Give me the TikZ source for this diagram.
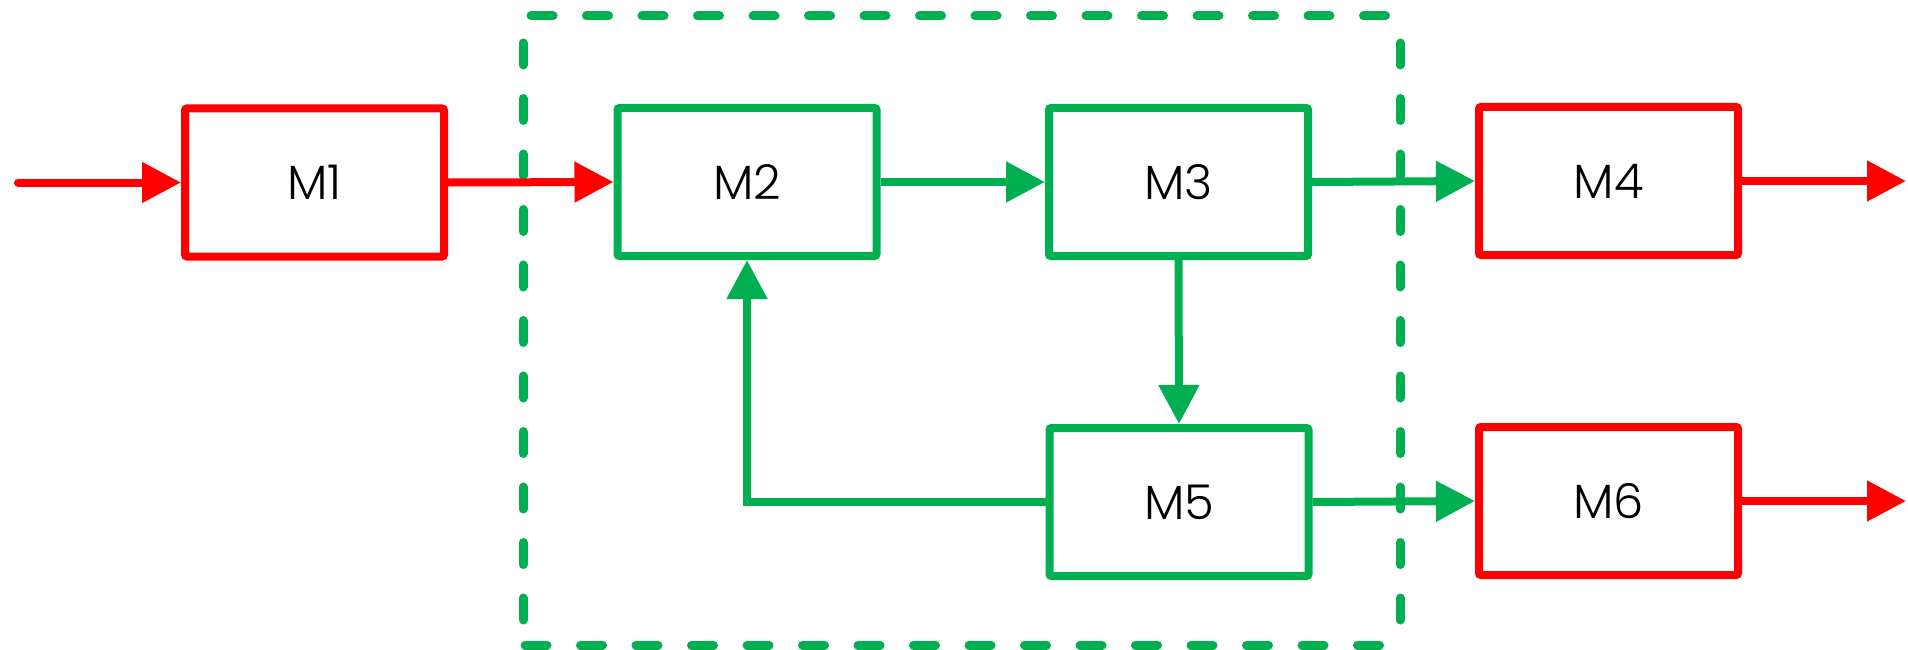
\documentclass[tikz,border=0pt]{standalone}
\usepackage{fontspec}
\setmainfont{Poppins}[UprightFont={* Light}]
\definecolor{BlockRed}{RGB}{255,0,0}
\definecolor{BlockGreen}{RGB}{0,176,80}
\usepackage{tikz}
\usetikzlibrary{arrows.meta}
\usetikzlibrary{positioning}
\tikzstyle{block} = [draw, line width=8pt, rounded corners=2pt, fill=white, minimum width=259pt, minimum height=148pt, inner sep=0pt, font=\fontsize{48}{58}\selectfont]
\tikzstyle{redbox} = [block, draw=BlockRed]
\tikzstyle{greenbox} = [block, draw=BlockGreen]
\tikzstyle{redarrow} = [line width=8pt, BlockRed, line cap=round, -{Triangle[length=39pt, width=39pt]}]
\tikzstyle{greenarrow} = [line width=8pt, BlockGreen, -{Triangle[length=39pt, width=39pt]}]
\tikzstyle{dashline} = [line width=9pt, BlockGreen, line cap=round, dash pattern=on 22pt off 33.5pt]

\begin{document}
\begin{tikzpicture}[x=1pt, y=-1pt]
                \useasboundingbox (0,0) rectangle (1908,650);

                
                \draw[dashline] (531,16) -- (1400,16);
                \draw[dashline] (523,43) -- (523,632);
                \draw[dashline] (1400,43) -- (1400,632);
                \draw[dashline] (525,645) -- (1400,645);

                
                \node[redbox] (M1) at (314.5,182.5) {M1};
                \node[greenbox] (M2) at (747,182) {M2};
                \node[greenbox] (M3) at (1178.5,182) {M3};
                \node[redbox] (M4) at (1608.5,181) {M4};
                \node[greenbox] (M5) at (1179,502) {M5};
                \node[redbox] (M6) at (1608.5,501) {M6};
                \coordinate (in) at (18,182.5);
                \coordinate (out4) at (1906,181);
                \coordinate (out6) at (1906,501);

                
                \draw[redarrow] (in) -- (M1.west);
                \draw[redarrow] (M1.east) -- (M2.west);
                \draw[greenarrow] (M2.east) -- (M3.west);
                \draw[greenarrow] (M3.east) -- (M4.west);
                \draw[greenarrow] (M3.south) -- (M5.north);
                \draw[greenarrow] (M5.west) -| (M2.south);
                \draw[greenarrow] (M5.east) -- (M6.west);
                \draw[redarrow] (M4.east) -- (out4);
                \draw[redarrow] (M6.east) -- (out6);
            \end{tikzpicture}
\end{document}
